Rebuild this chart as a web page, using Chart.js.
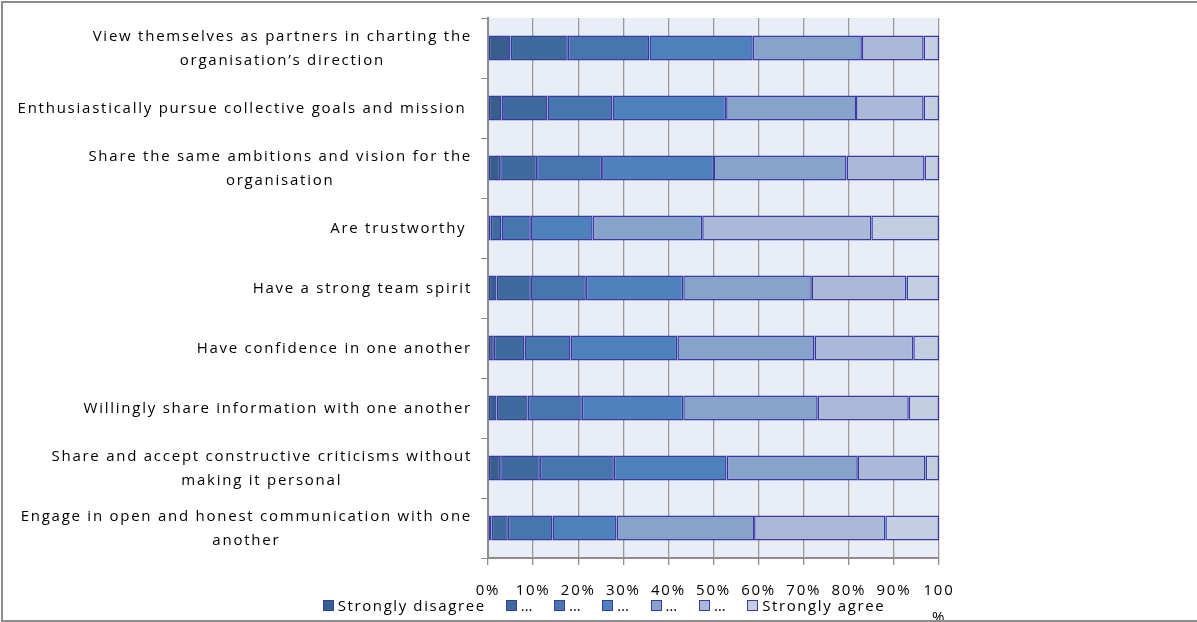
<!DOCTYPE html>
<html>
<head>
<meta charset="utf-8">
<script src="https://cdn.jsdelivr.net/npm/chart.js@4.4.1/dist/chart.umd.min.js"></script>
<style>
  html, body { margin: 0; padding: 0; background: #fff; overflow: hidden; }
  #wrap { position: relative; width: 1197px; height: 622px; overflow: hidden; }
  #frame { position: absolute; left: 1px; top: 1px; width: 1240px; height: 621px; border: 2px solid #8d8d8d; box-sizing: border-box; pointer-events: none; }
  #legend { position: absolute; top: 595px; left: 0; width: 1208px; display: flex; justify-content: center; font: 15px "Open Sans", sans-serif; letter-spacing: 1.6px; color: #000; white-space: nowrap; }
  #legend .item { display: flex; align-items: center; margin-right: 20px; }
  #legend .item:last-child { margin-right: 0; }
  #legend .box { width: 9px; height: 9px; border: 1px solid #3a3aa6; margin-right: 4px; }
</style>
</head>
<body>
<div id="wrap">
  <canvas id="chart" width="1197" height="622"></canvas>
  <div id="legend"></div>
  <div id="frame"></div>
</div>
<script>
// Statements (top to bottom)
const categories = [
    ["View themselves as partners in charting the", "organisation\u2019s direction"],
    ["Enthusiastically pursue collective goals and mission "],
    ["Share the same ambitions and vision for the", "organisation"],
    ["Are trustworthy "],
    ["Have a strong team spirit"],
    ["Have confidence in one another"],
    ["Willingly share information with one another"],
    ["Share and accept constructive criticisms without", "making it personal"],
    ["Engage in open and honest communication with one", "another"]
];

// Share of responses (%) per scale point
const stronglyDisagree = [5.0, 3.0, 2.7, 0.6, 1.9, 1.3, 1.9, 2.7, 0.8];
const level2 = [12.7, 10.2, 8.2, 2.4, 7.6, 6.8, 6.9, 8.8, 3.6];
const level3 = [18.1, 14.4, 14.4, 6.5, 12.2, 10.2, 12.0, 16.4, 9.9];
const level4 = [22.9, 25.2, 24.8, 13.7, 21.6, 23.7, 22.5, 25.0, 14.2];
const level5 = [24.2, 28.8, 29.4, 24.3, 28.5, 30.4, 29.8, 29.1, 30.5];
const level6 = [13.7, 15.0, 17.3, 37.5, 21.0, 21.9, 20.2, 15.0, 29.1];
const stronglyAgree = [3.4, 3.4, 3.2, 15.0, 7.2, 5.7, 6.7, 3.0, 11.9];

const seriesNames = ["Strongly disagree", "\u2026", "\u2026", "\u2026", "\u2026", "\u2026", "Strongly agree"];
const seriesValues = [stronglyDisagree, level2, level3, level4, level5, level6, stronglyAgree];
const seriesColors = ["#375e8d", "#3e6a9d", "#4775ad", "#4f81bd", "#87a2cb", "#aab9d7", "#c4cee2"];

const xTicks = [0, 10, 20, 30, 40, 50, 60, 70, 80, 90, 100];

const FONT = '"Open Sans", sans-serif';
const SPACING = "1.75px";

// plot background (and the wide letter spacing Excel gives its text)
const plotBackground = {
    id: "plotBackground",
    beforeDraw(chart) {
        const { ctx, chartArea } = chart;
        ctx.letterSpacing = SPACING;
        ctx.save();
        ctx.fillStyle = "#e9edf5";
        ctx.fillRect(chartArea.left, chartArea.top, chartArea.right - chartArea.left, chartArea.bottom - chartArea.top);
        ctx.restore();
    }
};

// category labels: right aligned block, lines centred inside it (like Excel)
const categoryLabels = {
    id: "categoryLabels",
    afterDraw(chart) {
        const { ctx } = chart;
        const yScale = chart.scales.y;
        const right = yScale.right - 16;
        const lineHeight = 24;
        ctx.save();
        ctx.font = "15px " + FONT;
        ctx.letterSpacing = SPACING;
        ctx.fillStyle = "#000";
        ctx.textAlign = "center";
        ctx.textBaseline = "middle";
        categories.forEach((lines, i) => {
            const y = yScale.getPixelForValue(i) + 1;
            const maxW = Math.max(...lines.map(l => ctx.measureText(l).width));
            const cx = right - maxW / 2;
            const y0 = y - (lines.length - 1) * lineHeight / 2;
            lines.forEach((l, j) => ctx.fillText(l, cx, y0 + j * lineHeight));
        });
        ctx.restore();
    }
};

const ctx = document.getElementById("chart").getContext("2d");
new Chart(ctx, {
    type: "bar",
    data: {
        labels: categories.map(c => c.join(" ")),
        datasets: seriesValues.map((vals, i) => ({
            label: seriesNames[i],
            data: vals,
            backgroundColor: seriesColors[i],
            borderColor: "#3a3aa6",
            borderWidth: 1.5,
            borderSkipped: false,
            barPercentage: 0.42,
            categoryPercentage: 1
        }))
    },
    options: {
        indexAxis: "y",
        responsive: false,
        animation: false,
        layout: { padding: { top: 18, right: 258, bottom: 0, left: 0 } },
        plugins: {
            legend: { display: false },
            tooltip: { enabled: false }
        },
        scales: {
            x: {
                stacked: true,
                min: 0,
                max: 100,
                afterBuildTicks(scale) {
                    scale.ticks = xTicks.map(v => ({ value: v }));
                },
                afterFit(scale) { scale.height = 64; },
                grid: { color: "#9a9a9a", lineWidth: 1.3, tickLength: 7, tickColor: "#8d8d8d" },
                border: { color: "#8d8d8d", width: 2 },
                ticks: {
                    autoSkip: false,
                    maxRotation: 0,
                    padding: 12,
                    color: "#000",
                    font: { family: FONT, size: 15, lineHeight: 1.8 },
                    callback: v => v === 100 ? ["100", "%"] : v + "%"
                }
            },
            y: {
                stacked: true,
                afterFit(scale) { scale.width = 488; },
                grid: { drawOnChartArea: false, drawTicks: true, tickLength: 7, color: "#8d8d8d", offset: true },
                border: { color: "#8d8d8d", width: 2 },
                ticks: { display: false }
            }
        }
    },
    plugins: [plotBackground, categoryLabels]
});

// legend
const legend = document.getElementById("legend");
seriesNames.forEach((name, i) => {
    const item = document.createElement("div");
    item.className = "item";
    item.innerHTML = `<span class="box" style="background:${seriesColors[i]}"></span><span>${name}</span>`;
    legend.appendChild(item);
});
</script>
</body>
</html>
